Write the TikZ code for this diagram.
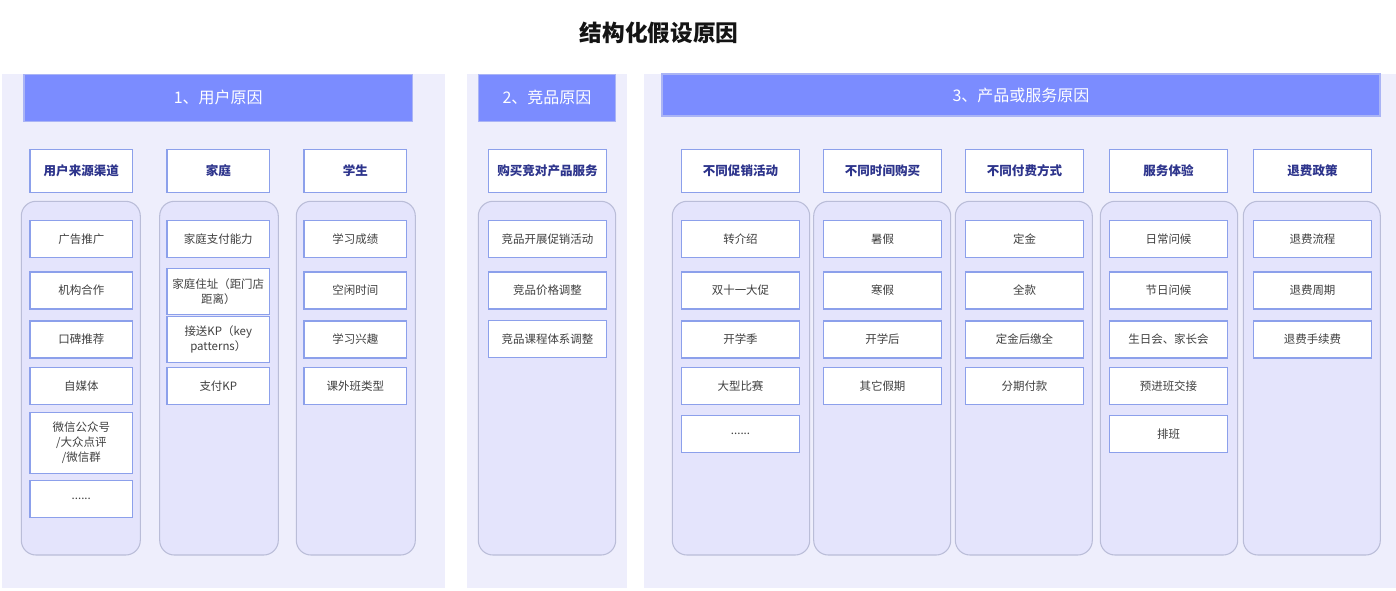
\documentclass[tikz,border=0pt]{standalone}
\usepackage{xcolor}
\usepackage{fontspec}
\setmainfont{Noto Sans CJK SC}

\definecolor{panelfill}{RGB}{238,238,252}
\definecolor{groupfill}{RGB}{228,228,252}
\definecolor{groupline}{RGB}{186,189,216}
\definecolor{headfill}{RGB}{123,140,255}
\definecolor{headline}{RGB}{170,180,245}
\definecolor{boxline}{RGB}{140,160,235}
\definecolor{cattext}{RGB}{45,52,140}
\definecolor{itemtext}{RGB}{64,64,64}

\begin{document}
\begin{tikzpicture}[x=0.75pt,y=0.75pt,yscale=-1,xscale=1,
  panelbg/.style={fill=panelfill,draw=none},
  groupbox/.style={fill=groupfill,draw=groupline,line width=0.8pt,rounded corners=11pt},
  headbar/.style={rectangle,fill=headfill,draw=headline,line width=0.8pt,text=white,inner sep=0pt,font=\fontsize{12}{14}\selectfont},
  catbox/.style={rectangle,fill=white,draw=boxline,line width=1pt,inner sep=0pt,text=cattext,minimum height=32.25pt,font=\fontsize{9.4}{11}\selectfont\bfseries},
  itembox/.style={rectangle,fill=white,draw=boxline,line width=1pt,inner sep=0pt,text=itemtext,minimum height=27.75pt,align=center,font=\fontsize{8.6}{11.25}\selectfont},
  narrow/.style={minimum width=77pt},
  wide/.style={minimum width=88.8pt}]
\useasboundingbox (0,0) rectangle (1396,590);

% Title
\draw (659,33) node (title) [text={rgb,255:red,20;green,20;blue,20},font=\fontsize{17}{20}\selectfont\bfseries] {结构化假设原因};

%Shape: Rectangle [panels]
\draw [panelbg] (1.5,74) rectangle (445.3,588.3);
\draw [panelbg] (466.7,74) rectangle (626.7,588.3);
\draw [panelbg] (644,74) rectangle (1396,588.3);

% Header Nodes
\draw (218.3,97.7) node (head1) [headbar,minimum width=291.5pt,minimum height=35.5pt] {1、用户原因};
\draw (547,97.7) node (head2) [headbar,minimum width=103.3pt,minimum height=35.5pt] {2、竞品原因};
\draw (1021,95) node (head3) [headbar,minimum width=538.5pt,minimum height=31.5pt] {3、产品或服务原因};

%Shape: Rounded Rectangle [groups]
\draw [groupbox] (21.3,201.3) rectangle (140.3,555);
\draw [groupbox] (159.7,201.3) rectangle (278.3,555);
\draw [groupbox] (296.3,201.3) rectangle (415.3,555);
\draw [groupbox] (478.3,201.3) rectangle (615.7,555);
\draw [groupbox] (672.3,201.3) rectangle (809.7,555);
\draw [groupbox] (813.7,201.3) rectangle (950.7,555);
\draw [groupbox] (955.3,201.3) rectangle (1092.3,555);
\draw [groupbox] (1100.3,201.3) rectangle (1237.7,555);
\draw [groupbox] (1243.3,201.3) rectangle (1380.3,555);

% Category Nodes
\draw (81.3,170.8) node (src) [catbox,narrow] {用户来源渠道};
\draw (218.3,170.8) node (family) [catbox,narrow] {家庭};
\draw (355.3,170.8) node (student) [catbox,narrow] {学生};
\draw (547.5,170.8) node (rival) [catbox,wide] {购买竞对产品服务};
\draw (740.5,170.8) node (promo) [catbox,wide] {不同促销活动};
\draw (882.5,170.8) node (time) [catbox,wide] {不同时间购买};
\draw (1024.5,170.8) node (pay) [catbox,wide] {不同付费方式};
\draw (1168.5,170.8) node (service) [catbox,wide] {服务体验};
\draw (1312.5,170.8) node (refund) [catbox,wide] {退费政策};

% Item Nodes: 用户来源渠道
\draw (81.3,238.8) node (src1) [itembox,narrow] {广告推广};
\draw (81.3,290.5) node (src2) [itembox,narrow] {机构合作};
\draw (81.3,339.5) node (src3) [itembox,narrow] {口碑推荐};
\draw (81.3,386.3) node (src4) [itembox,narrow] {自媒体};
\draw (81.3,442.8) node (src5) [itembox,narrow,minimum height=45.75pt] {微信公众号\\/大众点评\\/微信群};
\draw (81.3,498.7) node (src6) [itembox,narrow] {......};

% Item Nodes: 家庭
\draw (218.3,238.8) node (family1) [itembox,narrow] {家庭支付能力};
\draw (218.3,291.3) node (family2) [itembox,narrow,minimum height=34.5pt] {家庭住址（距门店\\距离）};
\draw (218.3,339.3) node (family3) [itembox,narrow,minimum height=34.5pt] {接送KP（key\\patterns）};
\draw (218.3,385.8) node (family4) [itembox,narrow] {支付KP};

% Item Nodes: 学生
\draw (355.3,238.8) node (student1) [itembox,narrow] {学习成绩};
\draw (355.3,290.5) node (student2) [itembox,narrow] {空闲时间};
\draw (355.3,339.5) node (student3) [itembox,narrow] {学习兴趣};
\draw (355.3,386.3) node (student4) [itembox,narrow] {课外班类型};

% Item Nodes: 购买竞对产品服务
\draw (547.5,238.8) node (rival1) [itembox,wide] {竞品开展促销活动};
\draw (547.5,290.5) node (rival2) [itembox,wide] {竞品价格调整};
\draw (547.5,338.8) node (rival3) [itembox,wide] {竞品课程体系调整};

% Item Nodes: 不同促销活动
\draw (740.5,238.8) node (promo1) [itembox,wide] {转介绍};
\draw (740.5,290.5) node (promo2) [itembox,wide] {双十一大促};
\draw (740.5,339.5) node (promo3) [itembox,wide] {开学季};
\draw (740.5,386.3) node (promo4) [itembox,wide] {大型比赛};
\draw (740.5,433.8) node (promo5) [itembox,wide] {......};

% Item Nodes: 不同时间购买
\draw (882.5,238.8) node (time1) [itembox,wide] {暑假};
\draw (882.5,290.5) node (time2) [itembox,wide] {寒假};
\draw (882.5,339.5) node (time3) [itembox,wide] {开学后};
\draw (882.5,386.3) node (time4) [itembox,wide] {其它假期};

% Item Nodes: 不同付费方式
\draw (1024.5,238.8) node (pay1) [itembox,wide] {定金};
\draw (1024.5,290.5) node (pay2) [itembox,wide] {全款};
\draw (1024.5,339.5) node (pay3) [itembox,wide] {定金后缴全};
\draw (1024.5,386.3) node (pay4) [itembox,wide] {分期付款};

% Item Nodes: 服务体验
\draw (1168.5,238.8) node (service1) [itembox,wide] {日常问候};
\draw (1168.5,290.5) node (service2) [itembox,wide] {节日问候};
\draw (1168.5,339.5) node (service3) [itembox,wide] {生日会、家长会};
\draw (1168.5,386.3) node (service4) [itembox,wide] {预进班交接};
\draw (1168.5,433.8) node (service5) [itembox,wide] {排班};

% Item Nodes: 退费政策
\draw (1312.5,238.8) node (refund1) [itembox,wide] {退费流程};
\draw (1312.5,290.5) node (refund2) [itembox,wide] {退费周期};
\draw (1312.5,339.5) node (refund3) [itembox,wide] {退费手续费};

\end{tikzpicture}
\end{document}
